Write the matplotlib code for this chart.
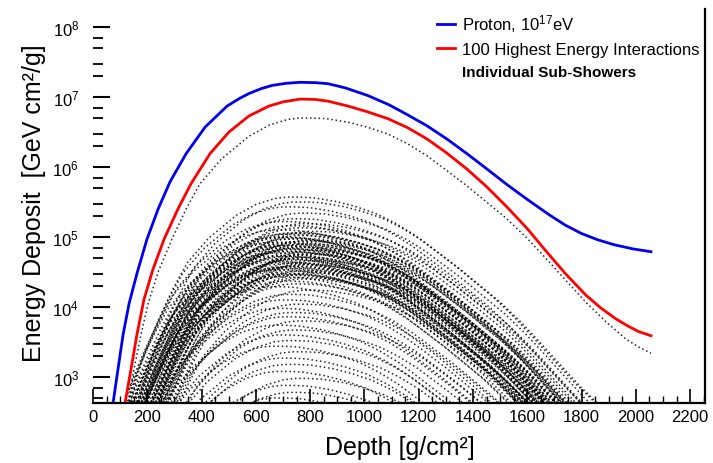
import numpy as np
import matplotlib.pyplot as plt
from matplotlib.ticker import MultipleLocator, LogLocator, NullFormatter
from matplotlib.lines import Line2D

plt.rcParams['font.family'] = ['Liberation Sans', 'DejaVu Sans']
plt.rcParams['mathtext.fontset'] = 'custom'
plt.rcParams['mathtext.rm'] = 'Liberation Sans'
plt.rcParams['mathtext.it'] = 'Liberation Sans:italic'
plt.rcParams['mathtext.bf'] = 'Liberation Sans:bold'

# full proton shower: depth [g/cm2] and log10 of energy deposit [GeV cm2/g]
proton_depth = [74, 92, 111, 133, 162, 199, 240, 284, 343, 413, 494, 540, 575, 620, 660,
                710, 763, 820, 866, 930, 1013, 1090, 1157, 1230, 1304, 1378, 1452, 1525,
                1599, 1680, 1740, 1800, 1860, 1920, 1990, 2056]
proton_log = [2.63, 3.11, 3.61, 4.05, 4.48, 4.97, 5.40, 5.79, 6.19, 6.57, 6.87, 6.98, 7.05, 7.12, 7.165,
              7.195, 7.21, 7.205, 7.19, 7.13, 7.02, 6.89, 6.75, 6.59, 6.40, 6.19, 5.97, 5.75,
              5.54, 5.32, 5.17, 5.05, 4.96, 4.89, 4.83, 4.79]

# sum of the 100 highest energy interactions
top100_depth = [118, 140, 162, 188, 221, 262, 313, 361, 431, 501, 575, 648, 700, 763, 820,
                866, 940, 1010, 1087, 1160, 1231, 1300, 1378, 1450, 1525, 1600, 1669, 1740,
                1816, 1870, 1923, 1970, 2010, 2056]
top100_log = [2.63, 3.11, 3.61, 4.11, 4.54, 4.97, 5.40, 5.76, 6.19, 6.50, 6.73, 6.87, 6.93, 6.97, 6.965,
              6.94, 6.87, 6.79, 6.69, 6.56, 6.40, 6.21, 5.97, 5.72, 5.43, 5.12, 4.80, 4.48,
              4.17, 3.99, 3.84, 3.73, 3.65, 3.59]

# leading sub-shower profile (peak at 807 g/cm2, 10^6.70)
lead_depth = [110, 129, 151, 177, 203, 240, 291, 343, 394, 472, 575, 650, 718, 760, 807,
              860, 940, 1010, 1087, 1160, 1231, 1300, 1378, 1450, 1525, 1600, 1670, 1740,
              1816, 1890, 1964, 2010, 2056]
lead_log = [2.30, 2.63, 3.11, 3.61, 4.05, 4.50, 4.97, 5.40, 5.76, 6.11, 6.44, 6.60, 6.68, 6.70, 6.70,
            6.69, 6.64, 6.57, 6.47, 6.33, 6.16, 5.96, 5.73, 5.50, 5.26, 4.98, 4.69, 4.39,
            4.07, 3.79, 3.54, 3.43, 3.34]
lead_peak_depth = 807
lead_peak_log = 6.70

# remaining individual sub-showers: peak position and peak height
sub_peak_depth = [760, 785, 745, 800, 770, 725, 810, 755, 790, 705,
                  830, 765, 735, 795, 715, 780, 745, 820, 755, 690,
                  805, 770, 730, 790, 710, 760, 840, 725, 775, 695,
                  815, 750, 735, 800, 720, 765, 845, 700, 780, 740,
                  810, 755, 725, 790, 705, 770, 830, 745, 760, 715,
                  800, 735, 775, 690, 820, 750, 730, 785, 710, 760,
                  740, 795, 705, 770, 725, 755, 700, 780, 730, 750,
                  720, 790, 740, 765, 710,
                  775, 730, 805, 750, 715, 790, 760, 740, 820, 700,
                  785, 755, 735, 800, 770, 720, 810, 745, 765, 795]
sub_peak_log = [5.57, 5.50, 5.43, 5.34, 5.26, 5.22, 5.19, 5.16, 5.13, 5.10,
                5.08, 5.06, 5.04, 5.02, 5.00, 4.98, 4.97, 4.95, 4.93, 4.92,
                4.90, 4.89, 4.87, 4.86, 4.84, 4.83, 4.81, 4.80, 4.78, 4.77,
                4.75, 4.74, 4.72, 4.71, 4.69, 4.68, 4.66, 4.65, 4.63, 4.62,
                4.60, 4.58, 4.57, 4.55, 4.53, 4.51, 4.49, 4.47, 4.45, 4.43,
                4.40, 4.37, 4.33, 4.29, 4.24, 4.18, 4.10, 4.04, 3.98, 3.92,
                3.86, 3.80, 3.74, 3.67, 3.60, 3.52, 3.44, 3.36, 3.27, 3.18,
                3.08, 2.98, 2.88, 2.78, 2.70,
                5.05, 4.99, 4.94, 4.91, 4.88, 4.85, 4.82, 4.79, 4.76, 4.73,
                4.70, 4.67, 4.64, 4.61, 4.58, 4.55, 4.52, 4.48, 4.46, 4.42]

fig = plt.figure(figsize=(7.13, 4.64), dpi=100)
ax = fig.add_axes([93 / 713, 1 - 404 / 464, 612 / 713, 394 / 464])

lead_depth = np.array(lead_depth)
lead_log = np.array(lead_log)
dot_style = dict(color='k', lw=1.1, ls=(0, (1, 1.8)), alpha=0.85)

ax.plot(lead_depth, 10 ** lead_log, **dot_style)
for d0, l0 in zip(sub_peak_depth, sub_peak_log):
    ax.plot(lead_depth + (d0 - lead_peak_depth),
            10 ** (lead_log + (l0 - lead_peak_log)), **dot_style)

ax.plot(top100_depth, 10 ** np.array(top100_log), color='#ff0000', lw=2.0)
ax.plot(proton_depth, 10 ** np.array(proton_log), color='#0000ee', lw=2.0)

ax.set_yscale('log')
ax.set_xlim(0, 2255)
ax.set_ylim(10 ** 2.629, 10 ** 8.257)

ax.xaxis.set_major_locator(MultipleLocator(200))
ax.xaxis.set_minor_locator(MultipleLocator(50))
ax.yaxis.set_major_locator(LogLocator(base=10))
ax.yaxis.set_minor_locator(LogLocator(base=10, subs=(2, 3, 5, 7)))
ax.yaxis.set_minor_formatter(NullFormatter())

ax.tick_params(axis='x', which='both', direction='in', top=False, labelsize=12, pad=4)
ax.tick_params(axis='x', which='major', length=10, width=1.2)
ax.tick_params(axis='x', which='minor', length=5, width=1.0)
ax.tick_params(axis='y', which='both', direction='in', right=False, labelsize=12, pad=10)
ax.tick_params(axis='y', which='major', length=12, width=1.5)
ax.tick_params(axis='y', which='minor', length=7, width=1.3)

ax.spines['top'].set_visible(False)
ax.spines['left'].set_visible(False)
ax.spines['bottom'].set_linewidth(1.6)
ax.spines['right'].set_linewidth(1.6)

ax.set_xlabel('Depth [g/cm²]', fontsize=18)
ax.set_ylabel('Energy Deposit  [GeV cm²/g]', fontsize=18)
ax.xaxis.set_label_coords(0.502, -0.08)
ax.yaxis.set_label_coords(-0.077, 0.51)

handles = [Line2D([], [], color='#0000ee', lw=2.0),
           Line2D([], [], color='#ff0000', lw=2.0),
           Line2D([], [], color='none')]
labels = [r'Proton, 10$^{17}$eV', '100 Highest Energy Interactions', 'Individual Sub-Showers']
leg = ax.legend(handles, labels, loc='upper left', bbox_to_anchor=(0.562, 0.991),
                frameon=False, fontsize=12, handlelength=1.08, handletextpad=0.42,
                borderpad=0, borderaxespad=0, labelspacing=0.45)
leg.get_texts()[2].set_fontsize(11)
leg.get_texts()[2].set_fontweight('bold')

fig.savefig('out.png', dpi=100)
